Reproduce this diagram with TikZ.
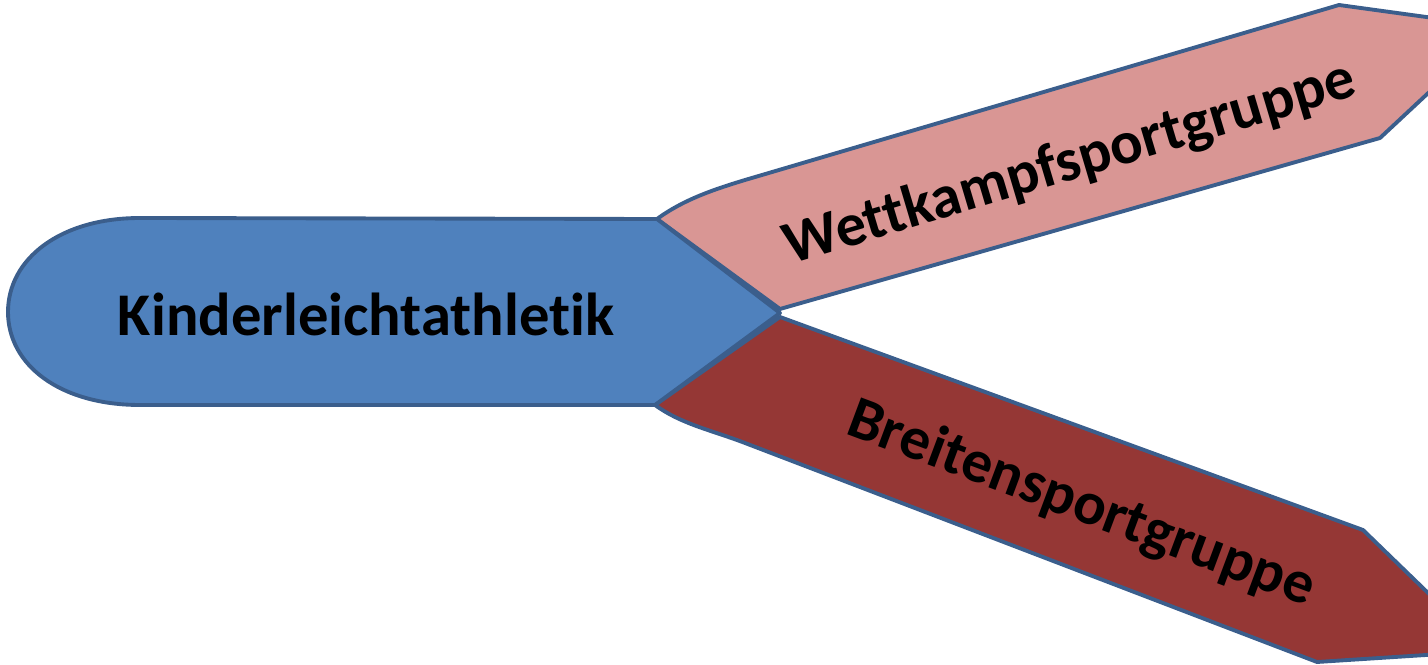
\documentclass[tikz,border=0pt]{standalone}
\usepackage{fontspec}
\setmainfont[Ligatures={NoCommon}]{Carlito}
\definecolor{bluefill}{HTML}{4F81BD}
\definecolor{pinkfill}{HTML}{D99694}
\definecolor{redfill}{HTML}{953735}
\definecolor{edge}{HTML}{3B5E8C}
\tikzset{
  band/.style={draw=edge, line width=2.2pt, line join=round},
  lbl/.style={font=\fontsize{34.5}{40}\selectfont\bfseries, text=black, inner sep=0pt}
}
\begin{document}
\begin{tikzpicture}[x=0.02cm,y=-0.02cm]
\useasboundingbox (0,0) rectangle (1428,665);
\clip (0,0) rectangle (1428,665);
% pink band
\path[band, fill=pinkfill] (657,219) .. controls (683,200) and (712,190) .. (745,180)
  -- (1339,5) -- (1499,27) -- (1380,138) -- (780,309) -- cycle;
% dark red band
\path[band, fill=redfill] (655,405) .. controls (681,424) and (711,430) .. (745,443)
  -- (1317,662) -- (1488,651) -- (1363,530) -- (780,317) -- cycle;
% blue shape
\path[band, fill=bluefill] (140,218) -- (657,219) -- (780,313) -- (655,405) -- (140,405)
  .. controls (60,405) and (8,365) .. (8,312) .. controls (8,259) and (60,218) .. (140,218) -- cycle;
\node[lbl] (k) at (366,314) {Kinderleichtathletik};
\node[lbl, rotate=16.6] (w) at (1070,164) {Wettkampfsportgruppe};
\node[lbl, rotate=-20.5] (b) at (1081,505) {Breitensportgruppe};
\end{tikzpicture}
\end{document}
